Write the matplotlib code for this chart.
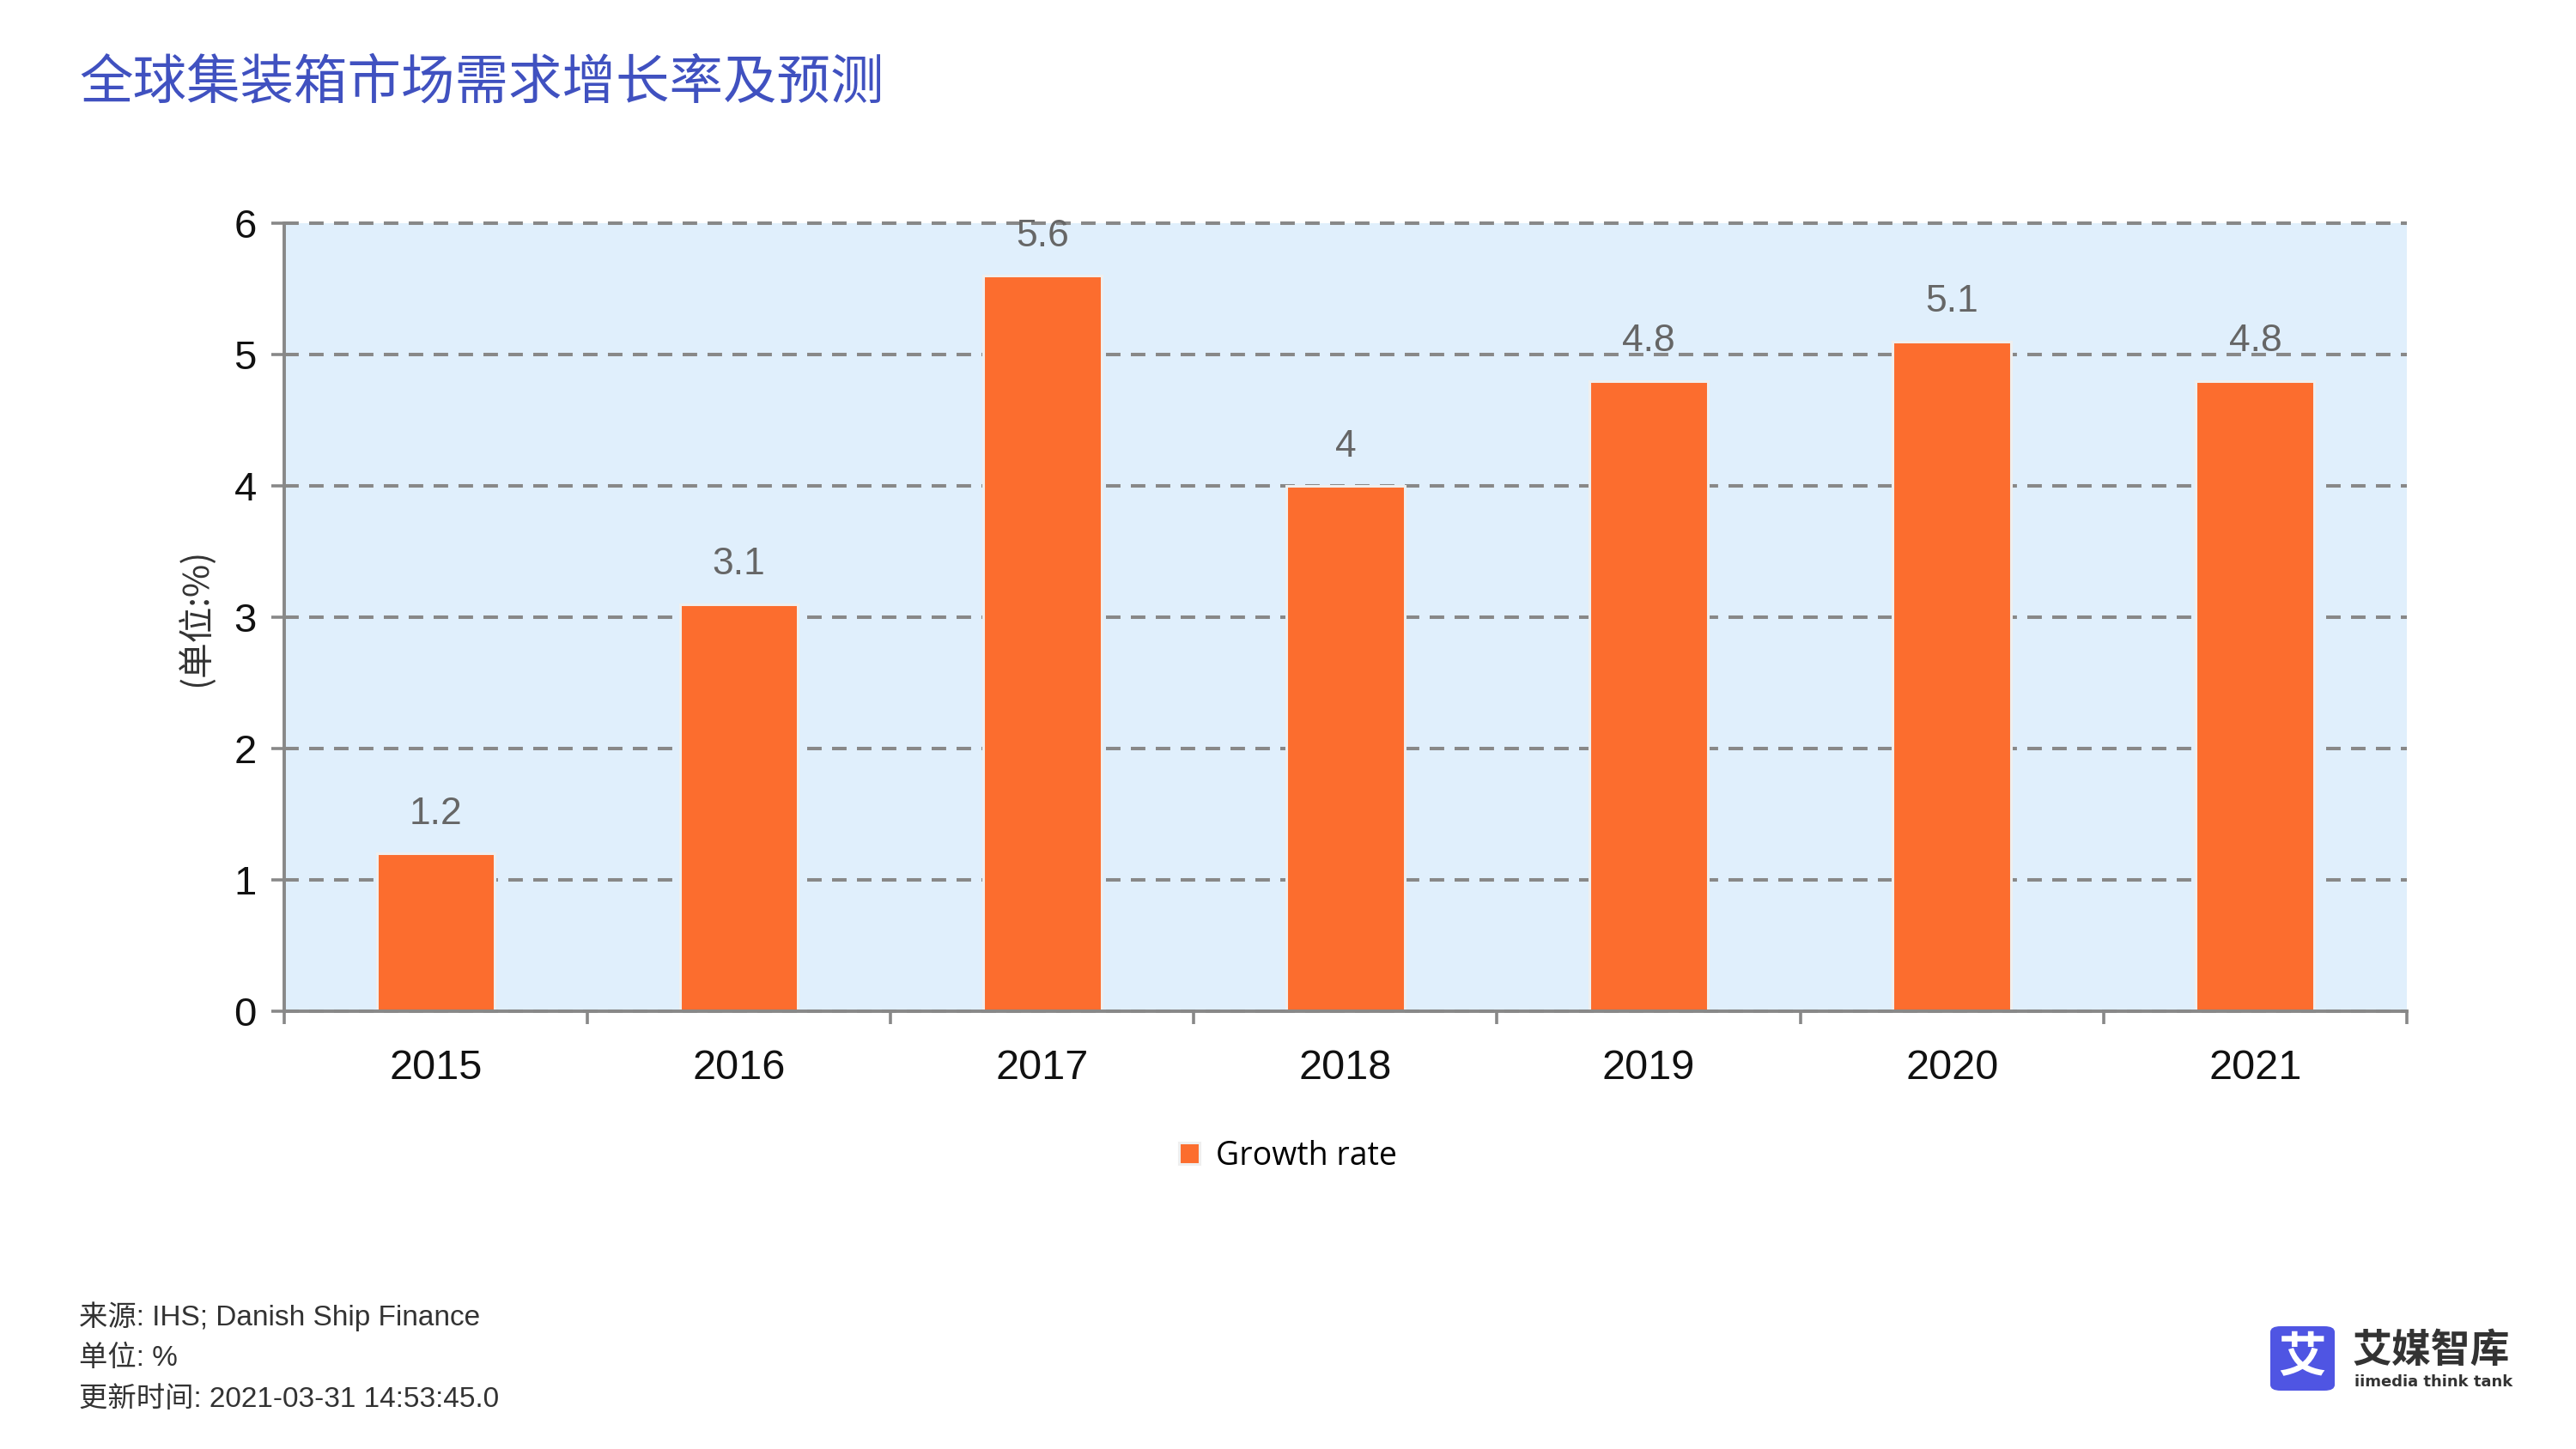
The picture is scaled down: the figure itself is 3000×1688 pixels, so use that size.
import matplotlib
matplotlib.use("Agg")
import matplotlib.pyplot as plt
from matplotlib.patches import FancyBboxPatch
import numpy as np

years = ["2015", "2016", "2017", "2018", "2019", "2020", "2021"]
growth = [1.2, 3.1, 5.6, 4.0, 4.8, 5.1, 4.8]
yticks = [0, 1, 2, 3, 4, 5, 6]
title = "全球集装箱市场需求增长率及预测"
ylabel = "(单位:%)"
legend_label = "Growth rate"
footer = ["来源: IHS; Danish Ship Finance", "单位: %", "更新时间: 2021-03-31 14:53:45.0"]

BAR = "#FC6D2E"
BG = "#E0EFFC"
GRID = "#888888"
LAT = ["Liberation Sans", "Noto Sans CJK SC", "DejaVu Sans"]
CJK = ["Noto Sans CJK SC", "DejaVu Sans"]

fig = plt.figure(figsize=(30, 16.88), dpi=100)
ax = fig.add_axes([0.1103, 0.3021, 0.8240, 0.5439])
ax.set_facecolor(BG)

x = np.arange(len(years))
bars = ax.bar(x, growth, width=0.39, color=BAR, edgecolor="#EFEFEF", linewidth=2.2,
              label=legend_label, zorder=3)

for xi, v in zip(x, growth):
    ax.annotate(f"{v:g}", (xi, v), xytext=(0, 33), textcoords="offset points",
                ha="center", va="center", fontsize=32, color="#666666",
                family=LAT, zorder=4)

ax.set_xlim(-0.5, len(years) - 0.5)
ax.set_ylim(0, 6)
ax.set_yticks(yticks)
ax.set_yticklabels([str(t) for t in yticks], fontsize=34, family=LAT, color="#111111")
ax.set_xticks(np.arange(len(years) + 1) - 0.5)
ax.set_xticklabels([])
ax.set_xticks(x, minor=True)
ax.set_xticklabels(years, minor=True, fontsize=35, family=LAT, color="#111111")
ax.tick_params(axis="x", which="minor", length=0, pad=32)
ax.tick_params(axis="x", which="major", length=11, width=2.6, color=GRID)
ax.tick_params(axis="y", length=11, width=2.6, color=GRID, pad=12)

for s in ["top", "right"]:
    ax.spines[s].set_visible(False)
for s in ["left", "bottom"]:
    ax.spines[s].set_color(GRID)
    ax.spines[s].set_linewidth(2.8)
    ax.spines[s].set_zorder(5)

ax.yaxis.grid(True, color=GRID, linewidth=2.9, linestyle=(0, (4.2, 3.0)))
ax.set_axisbelow(True)
for gl in ax.get_ygridlines():
    gl.set_clip_on(False)

fig.text(229 / 3000, 1 - 719 / 1688, ylabel, fontsize=30, family=CJK,
         color="#333333", rotation=90, ha="center", va="center")

leg = fig.legend(handles=[bars], labels=[legend_label], loc="center",
                 bbox_to_anchor=(0.5, 0.202), frameon=False,
                 prop={"family": ["Open Sans", "DejaVu Sans"], "size": 27},
                 handlelength=0.65, handleheight=0.65, handletextpad=0.5)

fig.text(92 / 3000, 1 - 96 / 1688, title, fontsize=45, color="#4051C0",
         family=CJK, ha="left", va="center")

for i, line in enumerate(footer):
    fig.text(92 / 3000, 1 - (1534 + 48 * i) / 1688, line, fontsize=24,
             color="#333333", family=LAT, ha="left", va="center")

# logo
lx0, ly0, ls = 2644 / 3000, 1 - 1620 / 1688, 75
logo = FancyBboxPatch((lx0, ly0), ls / 3000, ls / 1688,
                      boxstyle="round,pad=0,rounding_size=0.004",
                      transform=fig.transFigure, facecolor="#4F55E3",
                      edgecolor="none")
fig.patches.append(logo)
fig.text(lx0 + ls / 6000, ly0 + ls / 3376, "艾", fontsize=40, fontweight="bold",
         color="white", family=CJK, ha="center", va="center")
fig.text(2740 / 3000, 1 - 1574 / 1688, "艾媒智库", fontsize=33, fontweight="bold",
         color="#333333", family=CJK, ha="left", va="center")
fig.text(2742 / 3000, 1 - 1610 / 1688, "iimedia think tank", fontsize=13,
         fontweight="bold", color="#333333", family=["DejaVu Sans"],
         ha="left", va="center")

fig.savefig("out.png", dpi=100, facecolor="white")
